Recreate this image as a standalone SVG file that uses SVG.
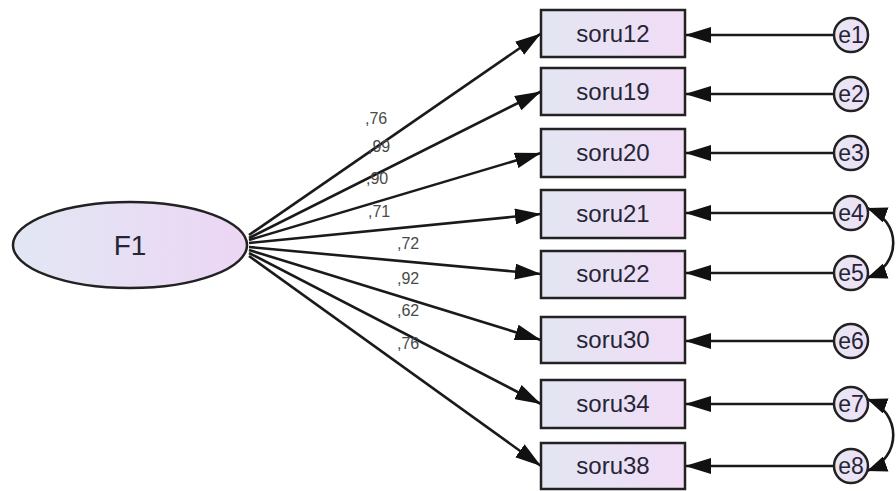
<svg xmlns="http://www.w3.org/2000/svg" width="896" height="491" viewBox="0 0 896 491">
<style>
.box{stroke:#222;stroke-width:2.5;fill:url(#gb)}
.err{stroke:#222;stroke-width:2.5;fill:url(#ge)}
.lat{stroke:#222;stroke-width:2.5;fill:url(#gl)}
.bt{font-family:"Liberation Sans",Arial,sans-serif;font-size:24px;fill:#252535;text-anchor:middle}
.et{font-family:"Liberation Sans",Arial,sans-serif;font-size:23px;fill:#252535;text-anchor:middle}
.lt{font-family:"Liberation Sans",Arial,sans-serif;font-size:28px;fill:#252535;text-anchor:middle}
.wt{font-family:"Liberation Sans",Arial,sans-serif;font-size:16px;fill:#4a4a4a}
.ln{stroke:#1a1a1a;stroke-width:2.6;fill:none;marker-end:url(#ah)}
.cv{stroke:#1a1a1a;stroke-width:2.6;fill:none;marker-end:url(#ah2);marker-start:url(#ah2)}
</style>
<defs>
<linearGradient id="gb" x1="0" y1="0" x2="1" y2="0"><stop offset="0" stop-color="#e3e6f3"/><stop offset="1" stop-color="#f1dcf6"/></linearGradient>
<linearGradient id="gl" x1="0" y1="0" x2="1" y2="0"><stop offset="0" stop-color="#e2e7f4"/><stop offset="1" stop-color="#ecd6f4"/></linearGradient>
<linearGradient id="ge" x1="0" y1="0" x2="1" y2="0"><stop offset="0" stop-color="#e6e8f4"/><stop offset="1" stop-color="#f0def6"/></linearGradient>
<marker id="ah" viewBox="0 0 26 16" refX="26" refY="8" markerWidth="26" markerHeight="16" markerUnits="userSpaceOnUse" orient="auto"><path d="M0,0 L26,8 L0,16 z" fill="#111"/></marker>
<marker id="ah2" viewBox="0 0 20 16" refX="20" refY="8" markerWidth="20" markerHeight="16" markerUnits="userSpaceOnUse" orient="auto-start-reverse"><path d="M0,0 L20,8 L0,16 z" fill="#111"/></marker>
</defs>
<rect width="896" height="491" fill="#ffffff"/>
<g id="connectors">
<line class="ln" x1="249" y1="235" x2="541" y2="33.5"/>
<line class="ln" x1="249" y1="238" x2="541" y2="91.5"/>
<line class="ln" x1="249" y1="240" x2="541" y2="153"/>
<line class="ln" x1="249" y1="243" x2="541" y2="214"/>
<line class="ln" x1="249" y1="247" x2="541" y2="274"/>
<line class="ln" x1="249" y1="250" x2="541" y2="340"/>
<line class="ln" x1="249" y1="253" x2="541" y2="404"/>
<line class="ln" x1="249" y1="256" x2="541" y2="466"/>
<line class="ln" x1="834" y1="35" x2="685" y2="35"/>
<line class="ln" x1="834" y1="94" x2="685" y2="94"/>
<line class="ln" x1="834" y1="153" x2="685" y2="153"/>
<line class="ln" x1="834" y1="213" x2="685" y2="213"/>
<line class="ln" x1="834" y1="273" x2="685" y2="273"/>
<line class="ln" x1="834" y1="341" x2="685" y2="341"/>
<line class="ln" x1="834" y1="404" x2="685" y2="404"/>
<line class="ln" x1="834" y1="466" x2="685" y2="466"/>
<path class="cv" d="M867,208 C902,221 902,265 867,278"/>
<path class="cv" d="M867,399 C902,412 902,458 867,471"/>
<text class="wt" x="365" y="124">,76</text>
<text class="wt" x="368" y="152">,99</text>
<text class="wt" x="366" y="184">,90</text>
<text class="wt" x="368" y="217">,71</text>
<text class="wt" x="397" y="249">,72</text>
<text class="wt" x="397" y="284">,92</text>
<text class="wt" x="397" y="316">,62</text>
<text class="wt" x="397" y="349">,76</text>
</g>
<g id="F1"><ellipse class="lat" cx="130" cy="245" rx="117" ry="43"/><text class="lt" x="130" y="255">F1</text></g>
<g id="soru12"><rect class="box" x="541" y="10" width="144" height="47"/><text class="bt" x="613" y="42">soru12</text></g>
<g id="soru19"><rect class="box" x="541" y="68" width="144" height="47"/><text class="bt" x="613" y="100">soru19</text></g>
<g id="soru20"><rect class="box" x="541" y="129" width="144" height="48"/><text class="bt" x="613" y="161">soru20</text></g>
<g id="soru21"><rect class="box" x="541" y="190" width="144" height="48"/><text class="bt" x="613" y="222">soru21</text></g>
<g id="soru22"><rect class="box" x="541" y="251" width="144" height="47"/><text class="bt" x="613" y="282">soru22</text></g>
<g id="soru30"><rect class="box" x="541" y="317" width="144" height="46"/><text class="bt" x="613" y="348">soru30</text></g>
<g id="soru34"><rect class="box" x="541" y="380" width="144" height="48"/><text class="bt" x="613" y="412">soru34</text></g>
<g id="soru38"><rect class="box" x="541" y="443" width="144" height="46"/><text class="bt" x="613" y="474">soru38</text></g>
<g id="e1"><circle class="err" cx="851" cy="35" r="17"/><text class="et" x="851" y="43">e1</text></g>
<g id="e2"><circle class="err" cx="851" cy="94" r="17"/><text class="et" x="851" y="102">e2</text></g>
<g id="e3"><circle class="err" cx="851" cy="153" r="17"/><text class="et" x="851" y="161">e3</text></g>
<g id="e4"><circle class="err" cx="851" cy="213" r="17"/><text class="et" x="851" y="221">e4</text></g>
<g id="e5"><circle class="err" cx="851" cy="273" r="17"/><text class="et" x="851" y="281">e5</text></g>
<g id="e6"><circle class="err" cx="851" cy="341" r="17"/><text class="et" x="851" y="349">e6</text></g>
<g id="e7"><circle class="err" cx="851" cy="404" r="17"/><text class="et" x="851" y="412">e7</text></g>
<g id="e8"><circle class="err" cx="851" cy="466" r="17"/><text class="et" x="851" y="474">e8</text></g>
</svg>
